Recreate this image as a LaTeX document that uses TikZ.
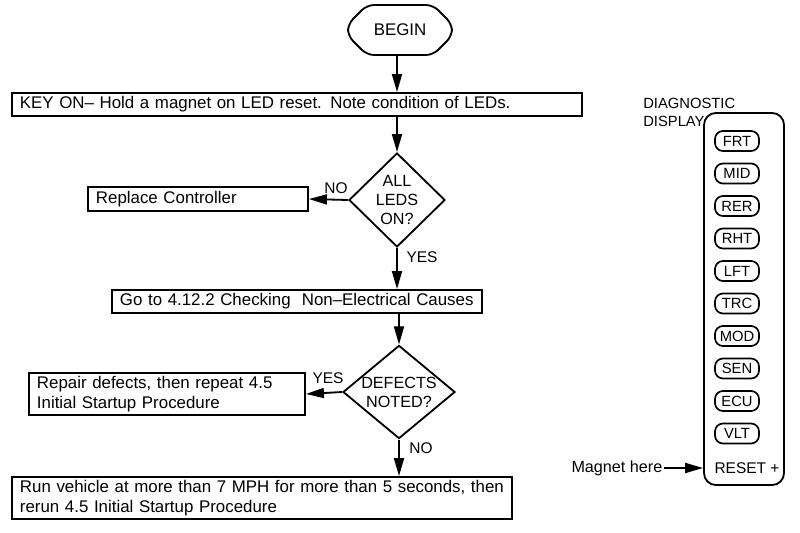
\documentclass[tikz,border=0pt]{standalone}
\usepackage{fontspec}
\setmainfont{Liberation Sans}
\usetikzlibrary{
    arrows.meta,
    shapes.geometric,
    positioning,
    calc
}

\begin{document}
\begin{tikzpicture}[x=0.025cm, y=-0.025cm,
    every node/.style={font=\fontsize{12}{14}\selectfont},
    box/.style={draw, line width=1.3pt, inner xsep=0.2cm, inner ysep=0pt, align=left},
    dia/.style={draw, diamond, line width=1.3pt, inner sep=0pt},
    dtext/.style={align=center, font=\fontsize{11.5}{13.5}\selectfont},
    btn/.style={draw, rectangle, rounded corners=0.2cm, line width=1.2pt, minimum width=1.1cm,
        minimum height=0.5cm, inner sep=0pt, font=\fontsize{10.5}{12}\selectfont},
    flow/.style={line width=1.3pt, -{Triangle[length=0.45cm, width=0.25cm]}},
    lbl/.style={font=\fontsize{11}{13}\selectfont}]
                            \useasboundingbox (0, 0) rectangle (800, 532);
                            \node[minimum width=2.6cm, minimum height=1.25cm, inner sep=0pt] (begin) at (400, 30) {BEGIN};
                            \draw[line width=1.3pt, rounded corners=5pt]
                            ($(begin)+(-52,-6)$) -- ($(begin)+(-33,-25)$) -- ($(begin)+(33,-25)$) -- ($(begin)+(52,-6)$)
                            -- ($(begin)+(52,6)$) -- ($(begin)+(33,25)$) -- ($(begin)+(-33,25)$) -- ($(begin)+(-52,6)$) -- cycle;
                            \node[box, text width=13.85cm, minimum height=0.575cm] (key) at (297, 104.5)
                                {KEY ON-- Hold a magnet on LED reset. Note condition of LEDs.};
                            \node[dia, minimum width=2.4cm, minimum height=2.35cm] (d1) at (397, 200) {};
                            \node[dtext] (d1txt) at (d1) {ALL\\LEDS\\ON?};
                            \node[box, text width=5.1cm, minimum height=0.6cm] (repl) at (198, 199) {Replace Controller};
                            \node[box, text width=8.85cm, minimum height=0.575cm] (goto) at (297, 301.5)
                                {Go to 4.12.2 Checking\ \ Non--Electrical Causes};
                            \node[dia, minimum width=2.8cm, minimum height=2.33cm] (d2) at (399, 392) {};
                            \node[dtext] (d2txt) at (d2) {DEFECTS\\NOTED?};
                            \node[box, text width=6.5cm, minimum height=1.05cm] (repair) at (167, 394)
                                {Repair defects, then repeat 4.5\\Initial Startup Procedure};
                            \node[box, text width=12.1cm, minimum height=1.05cm] (run) at (262, 498)
                                {Run vehicle at more than 7 MPH for more than 5 seconds, then\\rerun 4.5 Initial Startup Procedure};
                            \draw[flow] (begin.south -| d1.north) -- (key.north -| d1.north);
                            \draw[flow] (key.south -| d1.north) -- (d1.north);
                            \draw[flow] (d1.west) -- (repl.east);
                            \draw[flow] (d1.south) -- (goto.north -| d1.south);
                            \draw[flow] (goto.south -| d2.north) -- (d2.north);
                            \draw[flow] (d2.west) -- (repair.east);
                            \draw[flow] (d2.south) -- (run.north -| d2.south);
                            \node[lbl] (no1) at (336, 188) {NO};
                            \node[lbl] (yes1) at (422, 257) {YES};
                            \node[lbl] (yes2) at (328, 378) {YES};
                            \node[lbl] (no2) at (421, 448) {NO};
                            \node[draw, rectangle, rounded corners=0.3cm, line width=1.3pt, minimum width=2cm,
                                minimum height=9.3cm] (disp) at (744, 299) {};
                            \node[align=left, inner sep=0pt, anchor=north west, font=\fontsize{10.5}{12.5}\selectfont]
                                (dtitle) at (643, 98) {DIAGNOSTIC\\DISPLAY};
                            \foreach \lab [count=\i from 0] in {FRT, MID, RER, RHT, LFT, TRC, MOD, SEN, ECU, VLT}
                                \node[btn] (b\i) at (737, 141 + 32.5*\i) {\lab};
                            \node[font=\fontsize{11}{13}\selectfont] (reset) at (747, 468) {RESET +};
                            \node[anchor=east, inner sep=1pt, font=\fontsize{11.5}{13.5}\selectfont] (mag) at (664, 468) {Magnet here};
                            \draw[flow] (mag.east) -- (mag.east -| disp.west);
                        \end{tikzpicture}
\end{document}
